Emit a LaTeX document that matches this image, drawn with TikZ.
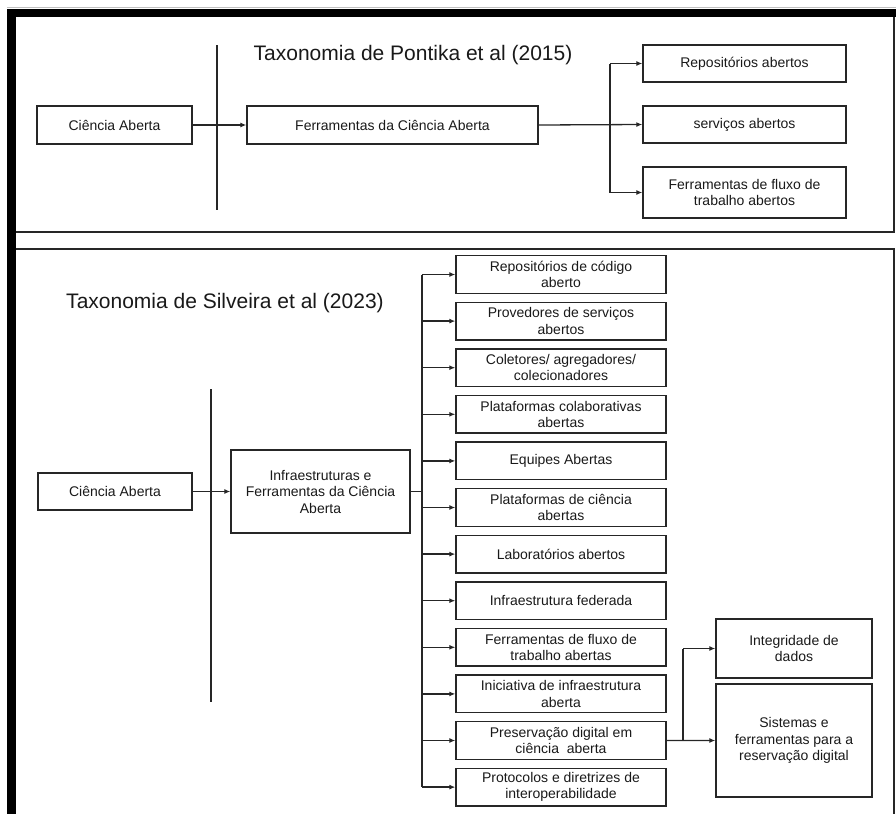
\documentclass[tikz,border=0pt]{standalone}
\usepackage{fontspec}
\setmainfont{Liberation Sans}
\usetikzlibrary{arrows.meta,calc,positioning}

\begin{document}
\begin{tikzpicture}[x=1pt,y=-1pt,>={Latex[length=6pt,width=5pt]},
  caixa/.style={draw=black!85,line width=1.4pt,align=center,inner sep=2pt,
    font=\fontsize{14}{16.5}\selectfont,text=black!90},
  liga/.style={draw=black!85,line width=1.3pt},
  titulo/.style={font=\fontsize{21}{24}\selectfont,text=black!90}]
  \useasboundingbox (0,0) rectangle (896,814);
  % moldura
  \draw[gray!50,line width=1pt] (7,7.5)--(896,7.5);
  \fill (7,9) rectangle (896,17);
  \fill (7,9) rectangle (16,814);
  \draw[line width=2pt,black!85] (16,232)--(894,232)--(894,17);
  \draw[line width=2pt,black!85] (16,249)--(894,249)--(894,814);

  % Pontika et al (2015)
  \node[titulo] (tit1) at (413,55) {Taxonomia de Pontika et al (2015)};
  \node[caixa,minimum width=155pt,minimum height=38pt] (ca1) at (114.5,125) {Ciência Aberta};
  \node[caixa,minimum width=291pt,minimum height=38pt] (fca) at (392.5,125) {Ferramentas da Ciência Aberta};
  \node[caixa,minimum width=203pt,minimum height=37pt] (rep) at (744.5,63.5) {Repositórios abertos};
  \node[caixa,minimum width=203pt,minimum height=37pt] (serv) at (744.5,124.5) {serviços abertos};
  \node[caixa,minimum width=203pt,minimum height=51pt] (fluxo) at (744.5,192.5) {Ferramentas de fluxo de\\trabalho abertos};
  \coordinate (sepA) at (217,45);
  \coordinate (sepB) at (217,210);
  \draw[liga] (sepA)--(sepB);
  \draw[liga,->] (ca1)--(fca);
  \coordinate (ramo) at (610,125);
  \draw[liga,->] (fca.east)--(serv.west);
  \draw[liga] (rep.west -| ramo)--(fluxo.west -| ramo);
  \draw[liga,->] (rep.west -| ramo)--(rep.west);
  \draw[liga,->] (fluxo.west -| ramo)--(fluxo.west);

  % Silveira et al (2023)
  \node[titulo] (tit2) at (225,303) {Taxonomia de Silveira et al (2023)};
  \node[caixa,minimum width=154pt,minimum height=37pt] (ca2) at (115,491.5) {Ciência Aberta};
  \node[caixa,minimum width=179pt,minimum height=83pt] (infra) at (320.5,491.5) {Infraestruturas e\\Ferramentas da Ciência\\Aberta};
  \coordinate (sepC) at (211,389);
  \coordinate (sepD) at (211,702);
  \draw[liga] (sepC)--(sepD);
  \draw[liga,->] (ca2)--(infra);
  \coordinate (tronco) at (422,491.5);
  \foreach \txt [count=\i] in {{Repositórios de código\\aberto},{Provedores de serviços\\abertos},
    {Coletores/ agregadores/\\colecionadores},{Plataformas colaborativas\\abertas},{Equipes Abertas},
    {Plataformas de ciência\\abertas},{Laboratórios abertos},{Infraestrutura federada},
    {Ferramentas de fluxo de\\trabalho abertas},{Iniciativa de infraestrutura\\aberta},
    {Preservação digital em\\ciência\ \ aberta},{Protocolos e diretrizes de\\interoperabilidade}}
    \node[caixa,minimum width=210pt,minimum height=37.5pt] (col\i) at (561,{274.5+(\i-1)*46.6}) {\txt};
  \draw[liga] (infra.east)--(tronco);
  \draw[liga] (col1.west -| tronco)--(col12.west -| tronco);
  \foreach \i in {1,...,12}
    \draw[liga,->] (col\i.west -| tronco)--(col\i.west);
  \node[caixa,minimum width=156pt,minimum height=59pt] (integ) at (794,648.5) {Integridade de\\dados};
  \node[caixa,minimum width=156pt,minimum height=113pt] (sist) at (794,740.5) {Sistemas e\\ferramentas para a\\reservação digital};
  \coordinate (ramo2) at (683,740.5);
  \draw[liga,->] (col11.east)--(sist.west);
  \draw[liga] (ramo2)--(ramo2 |- integ.west);
  \draw[liga,->] (ramo2 |- integ.west)--(integ.west);
\end{tikzpicture}
\end{document}
